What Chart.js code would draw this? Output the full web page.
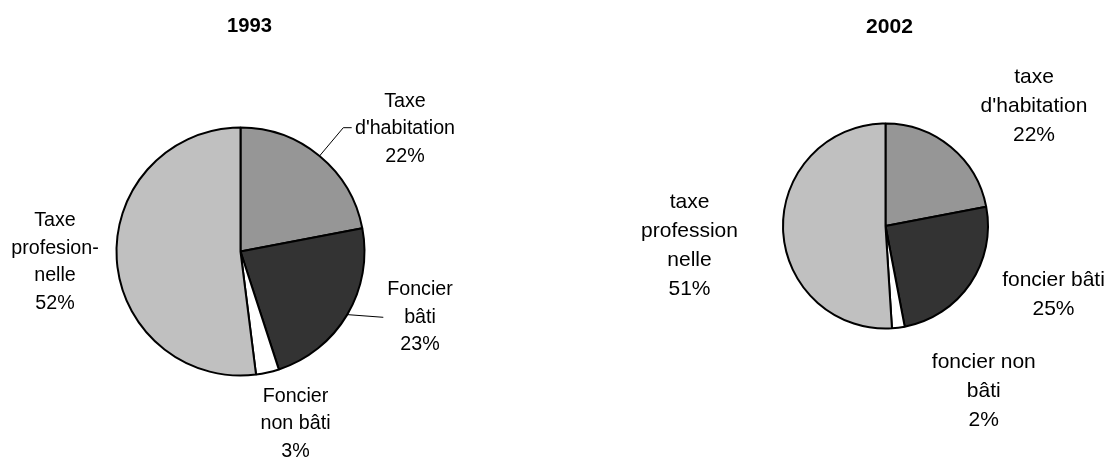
<!DOCTYPE html>
<html>
<head>
<meta charset="utf-8">
<script src="https://cdn.jsdelivr.net/npm/chart.js@4.4.1/dist/chart.umd.min.js"></script>
<style>
  html, body { margin: 0; padding: 0; background: #ffffff; }
  #wrap { position: relative; width: 1110px; height: 457px; overflow: hidden; }
  canvas { position: absolute; top: 0; }
</style>
</head>
<body>
<div id="wrap">
  <canvas id="c1993" width="555" height="457" style="left:0"></canvas>
  <canvas id="c2002" width="555" height="457" style="left:555px"></canvas>
</div>
<script>
// Local tax revenue shares (percent), slices in clockwise order from 12 o'clock
const categories1993 = [['Taxe', "d'habitation"], ['Foncier', 'bâti'], ['Foncier', 'non bâti'], ['Taxe', 'profesion-', 'nelle']];
const values1993 = [22, 23, 3, 52];

const categories2002 = [['taxe', "d'habitation"], ['foncier bâti'], ['foncier non', 'bâti'], ['taxe', 'profession', 'nelle']];
const values2002 = [22, 25, 2, 51];

const sliceColors = ['#969696', '#333333', '#ffffff', '#c0c0c0'];

const FONT = '"Liberation Sans", Arial, Helvetica, sans-serif';

// Layout of each panel: pie centre/radius inside its canvas, label anchors relative to the centre
const panels = [
  {
    id: 'c1993', title: '1993', categories: categories1993, values: values1993,
    cx: 240.5, cy: 251.5, r: 124,
    fontSize: 19.7, lineH: 27.5, titleSize: 20.2,
    titlePos: [9, -219.5],
    labels: [
      { pos: [164.5, -144.8], leader: [[102.8, -123.8], [111.2, -123.8]] },
      { pos: [179.5, 43.5], leader: [[142.8, 65.8]] },
      { pos: [55, 150.2] },
      { pos: [-185.5, -25.5] }
    ]
  },
  {
    id: 'c2002', title: '2002', categories: categories2002, values: values2002,
    cx: 330.5, cy: 226, r: 102.5,
    fontSize: 21, lineH: 28.9, titleSize: 21.1,
    titlePos: [4, -193.3],
    labels: [
      { pos: [148.5, -142.7] },
      { pos: [168, 60] },
      { pos: [98.3, 142.3] },
      { pos: [-196, -17.7] }
    ]
  }
];

const labelPlugin = {
  id: 'sliceLabels',
  afterDraw(chart) {
    const p = chart.options.plugins.sliceLabels.panel;
    const ctx = chart.ctx;
    const arcs = chart.getDatasetMeta(0).data;
    if (!arcs.length) return;
    const cx = arcs[0].x, cy = arcs[0].y;
    ctx.save();
    ctx.fillStyle = '#000000';
    ctx.textAlign = 'center';
    ctx.textBaseline = 'alphabetic';

    // panel title
    ctx.font = 'bold ' + p.titleSize + 'px ' + FONT;
    ctx.fillText(p.title, cx + p.titlePos[0], cy + p.titlePos[1]);

    // slice labels with percentages
    ctx.font = p.fontSize + 'px ' + FONT;
    p.labels.forEach((lab, i) => {
      const lines = p.categories[i].concat([p.values[i] + '%']);
      lines.forEach((t, k) => {
        ctx.fillText(t, cx + lab.pos[0], cy + lab.pos[1] + k * p.lineH);
      });
      if (lab.leader) {
        const a = arcs[i];
        const mid = (a.startAngle + a.endAngle) / 2;
        ctx.beginPath();
        ctx.strokeStyle = '#000000';
        ctx.lineWidth = 1;
        ctx.moveTo(cx + Math.cos(mid) * a.outerRadius, cy + Math.sin(mid) * a.outerRadius);
        lab.leader.forEach(pt => ctx.lineTo(cx + pt[0], cy + pt[1]));
        ctx.stroke();
      }
    });
    ctx.restore();
  }
};

panels.forEach(p => {
  const canvas = document.getElementById(p.id);
  const W = canvas.width, H = canvas.height;
  const border = 2;
  const side = 2 * p.r + border;
  const left = p.cx - side / 2, top = p.cy - side / 2;
  new Chart(canvas, {
    type: 'pie',
    data: {
      labels: p.categories.map(c => c.join(' ')),
      datasets: [{
        data: p.values,
        backgroundColor: sliceColors,
        borderColor: '#000000',
        borderWidth: border,
        hoverBorderWidth: border,
        hoverOffset: 0
      }]
    },
    options: {
      responsive: false,
      animation: false,
      events: [],
      devicePixelRatio: 1,
      layout: {
        padding: { left: left, top: top, right: W - left - side, bottom: H - top - side }
      },
      plugins: {
        legend: { display: false },
        tooltip: { enabled: false },
        title: { display: false },
        sliceLabels: { panel: p }
      }
    },
    plugins: [labelPlugin]
  });
});
</script>
</body>
</html>
